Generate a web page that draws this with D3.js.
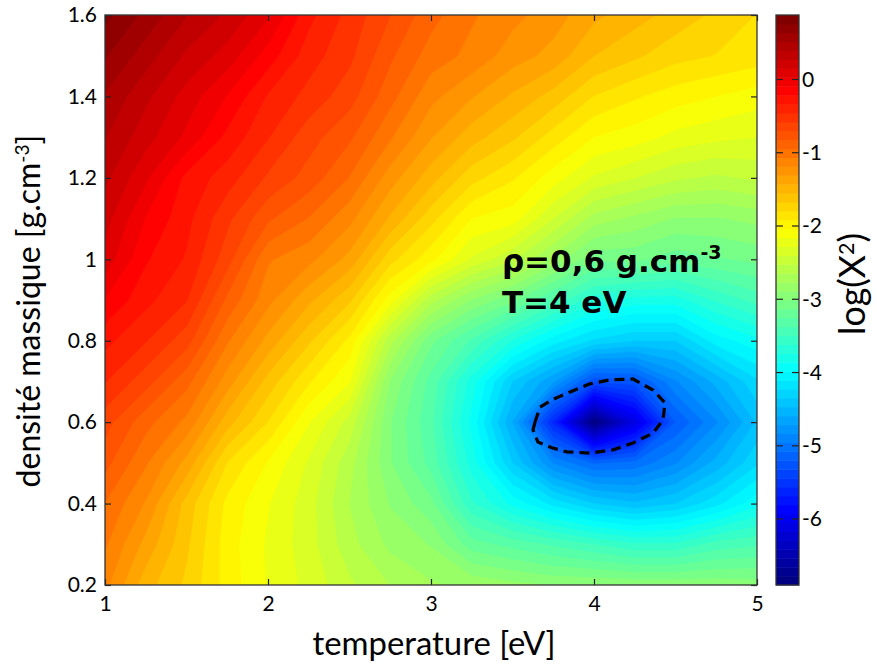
<!DOCTYPE html>
<html>
<head>
<meta charset="utf-8">
<script src="https://cdn.jsdelivr.net/npm/d3@7"></script>
<style>
  body { margin: 0; background: #fff; }
  text { font-family: Lato, "DejaVu Sans", sans-serif; fill: #000; }
  text.annot { font-family: "DejaVu Sans", sans-serif; font-weight: bold; }
</style>
</head>
<body>
<svg id="chart" width="877" height="668"></svg>
<script>
// ---------------- DATA ----------------
const temperatures = [1, 1.25, 1.5, 1.75, 2, 2.25, 2.5, 2.75, 3, 3.25, 3.5, 3.75, 4, 4.25, 4.5, 4.75, 5];
const densities = [1.6, 1.5, 1.4, 1.3, 1.2, 1.1, 1.0, 0.9, 0.8, 0.7, 0.6, 0.5, 0.4, 0.3, 0.2];
// log(chi^2), one row per density (top row = 1.6)
const rho160 = [0.8, 0.6, 0.4, 0.25, 0.05, -0.3, -0.5, -0.7, -0.9, -1.05, -1.15, -1.25, -1.4, -1.5, -1.6, -1.7, -1.8];
const rho150 = [0.65, 0.45, 0.25, 0.1, -0.15, -0.4, -0.55, -0.8, -1.0, -1.1, -1.25, -1.35, -1.55, -1.65, -1.75, -1.8, -1.85];
const rho140 = [0.5, 0.3, 0.1, -0.1, -0.35, -0.5, -0.65, -0.9, -1.15, -1.3, -1.45, -1.6, -1.8, -1.9, -1.98, -2.04, -2.1];
const rho130 = [0.4, 0.2, 0.0, -0.25, -0.45, -0.65, -0.8, -1.05, -1.3, -1.5, -1.65, -1.85, -2.04, -2.1, -2.2, -2.25, -2.28];
const rho120 = [0.3, 0.05, -0.25, -0.4, -0.6, -0.75, -0.95, -1.25, -1.5, -1.75, -1.9, -2.1, -2.3, -2.4, -2.5, -2.55, -2.5];
const rho110 = [0.2, -0.1, -0.3, -0.55, -0.8, -0.95, -1.15, -1.45, -1.75, -2.04, -2.1, -2.4, -2.7, -2.8, -2.9, -2.9, -2.85];
const rho100 = [0.1, -0.2, -0.35, -0.65, -1.05, -1.15, -1.35, -1.75, -2.0, -2.3, -2.5, -2.8, -3.1, -3.1, -3.2, -3.15, -3.1];
const rho090 = [-0.1, -0.3, -0.45, -0.85, -1.15, -1.4, -1.65, -2.1, -2.6, -2.9, -3.1, -3.4, -3.7, -3.8, -3.8, -3.6, -3.45];
const rho080 = [-0.3, -0.45, -0.65, -1.05, -1.35, -1.65, -1.95, -2.6, -3.1, -3.4, -3.75, -4.05, -4.25, -4.35, -4.35, -4.05, -3.9];
const rho070 = [-0.45, -0.65, -0.9, -1.25, -1.6, -1.9, -2.15, -2.9, -3.3, -3.8, -4.35, -4.7, -5.3, -5.25, -4.85, -4.55, -4.25];
const rho060 = [-0.65, -0.9, -1.1, -1.5, -1.8, -2.15, -2.45, -3.0, -3.35, -3.9, -4.6, -5.6, -6.85, -6.1, -5.2, -4.85, -4.45];
const rho050 = [-0.78, -1.05, -1.35, -1.8, -2.05, -2.3, -2.6, -3.0, -3.3, -3.8, -4.35, -4.85, -5.1, -5.05, -4.85, -4.55, -4.25];
const rho040 = [-0.95, -1.2, -1.6, -1.95, -2.15, -2.35, -2.65, -2.9, -3.1, -3.6, -3.9, -4.15, -4.35, -4.45, -4.35, -4.15, -3.9];
const rho030 = [-1.05, -1.35, -1.65, -1.98, -2.18, -2.35, -2.6, -2.8, -2.9, -3.2, -3.3, -3.4, -3.5, -3.6, -3.6, -3.45, -3.4];
const rho020 = [-1.15, -1.5, -1.7, -1.97, -2.17, -2.32, -2.5, -2.65, -2.75, -2.8, -2.85, -2.9, -2.9, -2.92, -2.92, -2.93, -2.95];
const logChi2 = [rho160, rho150, rho140, rho130, rho120, rho110, rho100, rho090, rho080, rho070, rho060, rho050, rho040, rho030, rho020];

// dashed confidence contour (temperature, density)
const confT   = [3.638, 3.669, 3.742, 3.853, 3.975, 4.098, 4.239, 4.362, 4.436, 4.423, 4.362, 4.239, 4.117, 3.975, 3.834, 3.742, 3.656, 3.626];
const confRho = [0.600, 0.637, 0.655, 0.674, 0.694, 0.704, 0.706, 0.679, 0.647, 0.605, 0.573, 0.549, 0.532, 0.524, 0.527, 0.537, 0.551, 0.581];

const xTicks = [1, 2, 3, 4, 5];
const xTickLabels = ["1", "2", "3", "4", "5"];
const yTicks = [0.2, 0.4, 0.6, 0.8, 1.0, 1.2, 1.4, 1.6];
const yTickLabels = ["0.2", "0.4", "0.6", "0.8", "1", "1.2", "1.4", "1.6"];
const cbTicks = [-6, -5, -4, -3, -2, -1, 0];
const cbTickLabels = ["-6", "-5", "-4", "-3", "-2", "-1", "0"];
const colorRange = [-6.9, 0.88];
const annotLine1 = "ρ=0,6 g.cm";
const annotSup = "-3";
const annotLine2 = "T=4 eV";
const annotPos = [3.435, 0.969, 0.868]; // T, rho line1, rho line2

// ---------------- LAYOUT ----------------
const L = 105, R = 757, T0 = 15, B = 585;
const CBL = 776, CBR = 799;
const svg = d3.select("#chart");

const x = d3.scaleLinear().domain([1, 5]).range([L, R]);
const y = d3.scaleLinear().domain([0.2, 1.6]).range([B, T0]);

function jet(t) {
  const c = v => Math.max(0, Math.min(1, v));
  return d3.rgb(255 * c(1.5 - Math.abs(4 * t - 3)), 255 * c(1.5 - Math.abs(4 * t - 2)), 255 * c(1.5 - Math.abs(4 * t - 1)));
}
const NC = 64;
const cmapColor = k => jet(k / (NC - 1)).formatHex();

// clip
svg.append("defs").append("clipPath").attr("id", "plotclip")
  .append("rect").attr("x", L).attr("y", T0).attr("width", R - L).attr("height", B - T0);

// contours
const n = temperatures.length, m = densities.length;
const values = logChi2.flat();
const tIdx = d3.scaleLinear().domain([0, n - 1]).range([temperatures[0], temperatures[n - 1]]);
const rIdx = d3.scaleLinear().domain([0, m - 1]).range([densities[0], densities[m - 1]]);
const thresholds = d3.range(NC).map(k => colorRange[0] + k * (colorRange[1] - colorRange[0]) / NC);
const contours = d3.contours().size([n, m]).thresholds(thresholds)(values);
const proj = d3.geoTransform({
  point: function (px, py) { this.stream.point(x(tIdx(px - 0.5)), y(rIdx(py - 0.5))); }
});
const path = d3.geoPath(proj);
const g = svg.append("g").attr("clip-path", "url(#plotclip)");
g.selectAll("path.band").data(contours).join("path")
  .attr("class", "band")
  .attr("d", path)
  .attr("fill", (d, i) => cmapColor(i))
  .attr("stroke", (d, i) => cmapColor(i))
  .attr("stroke-width", 0.6);

// dashed contour
const conf = confT.map((t, i) => [t, confRho[i]]);
g.append("path")
  .attr("d", d3.line().x(d => x(d[0])).y(d => y(d[1])).curve(d3.curveLinearClosed)(conf))
  .attr("fill", "none").attr("stroke", "#000").attr("stroke-width", 3.2)
  .attr("stroke-dasharray", "10,6");

// axes (inside ticks)
const tickFont = 21;
function styleAxis(sel) {
  sel.select(".domain").remove();
  sel.selectAll(".tick line").attr("stroke", "#222").attr("stroke-width", 1.2);
  sel.selectAll(".tick text").attr("font-size", tickFont).attr("fill", "#000");
}
svg.append("g").attr("transform", `translate(0,${B})`)
  .call(d3.axisBottom(x).tickValues(xTicks).tickFormat((d, i) => xTickLabels[i]).tickSize(-6).tickSizeOuter(0).tickPadding(11))
  .call(styleAxis);
svg.append("g").attr("transform", `translate(0,${T0})`)
  .call(d3.axisTop(x).tickValues(xTicks).tickFormat("").tickSize(-6).tickSizeOuter(0))
  .call(styleAxis);
svg.append("g").attr("transform", `translate(${L},0)`)
  .call(d3.axisLeft(y).tickValues(yTicks).tickFormat((d, i) => yTickLabels[i]).tickSize(-6).tickSizeOuter(0).tickPadding(8))
  .call(styleAxis);
svg.append("g").attr("transform", `translate(${R},0)`)
  .call(d3.axisRight(y).tickValues(yTicks).tickFormat("").tickSize(-6).tickSizeOuter(0))
  .call(styleAxis);

svg.append("rect").attr("x", L).attr("y", T0).attr("width", R - L).attr("height", B - T0)
  .attr("fill", "none").attr("stroke", "#333").attr("stroke-width", 1.3);

// colorbar
const yc = d3.scaleLinear().domain(colorRange).range([B, T0]);
const step = (colorRange[1] - colorRange[0]) / NC;
svg.append("g").selectAll("rect").data(d3.range(NC)).join("rect")
  .attr("x", CBL).attr("width", CBR - CBL)
  .attr("y", k => yc(colorRange[0] + (k + 1) * step))
  .attr("height", k => yc(colorRange[0] + k * step) - yc(colorRange[0] + (k + 1) * step) + 0.5)
  .attr("fill", k => cmapColor(k));
const cbt = svg.append("g");
cbt.selectAll("line.l").data(cbTicks).join("line").attr("class", "l")
  .attr("x1", CBL).attr("x2", CBL + 7).attr("y1", d => yc(d)).attr("y2", d => yc(d))
  .attr("stroke", "#222").attr("stroke-width", 1.2);
cbt.selectAll("line.r").data(cbTicks).join("line").attr("class", "r")
  .attr("x1", CBR - 7).attr("x2", CBR).attr("y1", d => yc(d)).attr("y2", d => yc(d))
  .attr("stroke", "#222").attr("stroke-width", 1.2);
cbt.selectAll("text").data(cbTicks).join("text")
  .attr("x", CBR + 3).attr("y", d => yc(d)).attr("dy", "0.35em")
  .attr("font-size", tickFont).text((d, i) => cbTickLabels[i]);
svg.append("rect").attr("x", CBL).attr("y", T0).attr("width", CBR - CBL).attr("height", B - T0)
  .attr("fill", "none").attr("stroke", "#333").attr("stroke-width", 1.3);

// fit helper: set font size so the text spans the target width
function fitWidth(sel, target, base) {
  sel.attr("font-size", base);
  const w = sel.node().getComputedTextLength();
  sel.attr("font-size", base * target / w);
}

// axis titles
const xl = svg.append("text").attr("x", 434).attr("y", 655).attr("text-anchor", "middle").text("temperature [eV]");
fitWidth(xl, 243, 28);

const yl = svg.append("text").attr("transform", "translate(40,311) rotate(-90)").attr("text-anchor", "middle");
yl.append("tspan").text("densité massique [g.cm");
yl.append("tspan").attr("dy", -11).attr("font-size", "0.6em").text("-3");
yl.append("tspan").attr("dy", 11).text("]");
fitWidth(yl, 353, 28);

const cl = svg.append("text").attr("transform", "translate(865,284) rotate(-90)").attr("text-anchor", "middle");
cl.append("tspan").text("log(X");
cl.append("tspan").attr("dy", -11).attr("font-size", "0.6em").text("2");
cl.append("tspan").attr("dy", 11).text(")");
fitWidth(cl, 102, 28);

// annotation
const a1 = svg.append("text").attr("class", "annot").attr("x", x(annotPos[0])).attr("y", y(annotPos[1]))
  .attr("font-size", 31);
a1.append("tspan").text(annotLine1);
a1.append("tspan").attr("dy", -13).attr("font-size", 19).text(annotSup);
svg.append("text").attr("class", "annot").attr("x", x(annotPos[0])).attr("y", y(annotPos[2]))
  .attr("font-size", 31)
  .text(annotLine2);
</script>
</body>
</html>
